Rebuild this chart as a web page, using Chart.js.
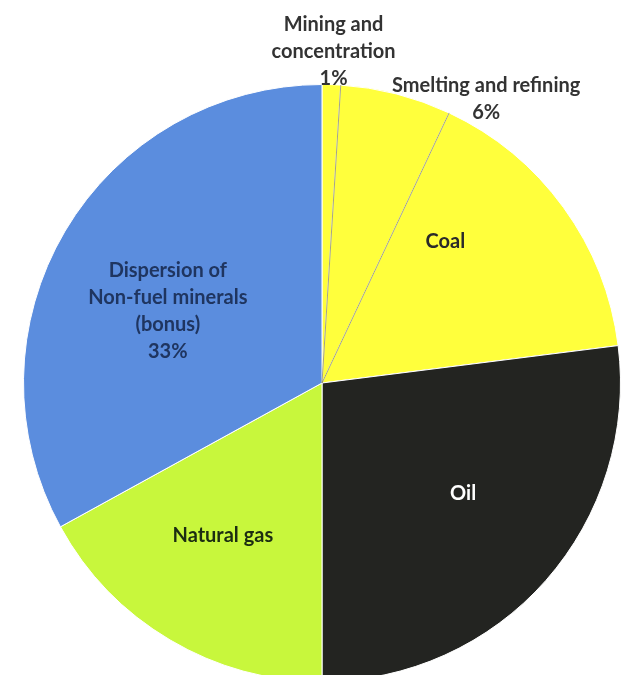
<!DOCTYPE html>
<html>
<head>
<meta charset="utf-8">
<script src="https://cdn.jsdelivr.net/npm/chart.js@4"></script>
<style>
    html, body { margin: 0; padding: 0; background: #ffffff; overflow: hidden; }
    #wrap { width: 629px; height: 682px; }
</style>
</head>
<body>
<div id="wrap"><canvas id="pie"></canvas></div>
<script>
// Slices, clockwise from 12 o'clock
const categories = ['Mining and concentration', 'Smelting and refining', 'Coal', 'Oil', 'Natural gas', 'Dispersion of Non-fuel minerals (bonus)'];
const shares = [1, 6, 16, 27, 17, 33];
const sliceColors = ['#ffff3c', '#ffff3c', '#ffff3c', '#232421', '#c8f73c', '#5b8dde'];

// Text shown for each slice (lines)
const labelLines = [
    ['Mining and', 'concentration', '1%'],
    ['Smelting and refining', '6%'],
    ['Coal'],
    ['Oil'],
    ['Natural gas'],
    ['Dispersion of', 'Non-fuel minerals', '(bonus)', '33%']
];
const labelColors = ['#333333', '#333333', '#2a2a2a', '#ffffff', '#1c2d12', '#1f3560'];
// placement: angle in degrees clockwise from top, distance as fraction of radius
const labelAngle = [2, 30, 41, 128, 213, 295];
const labelDist = [1.11, 1.1, 0.63, 0.6, 0.61, 0.57];

const sliceLabels = {
    id: 'sliceLabels',
    afterDatasetsDraw(chart) {
        const ctx = chart.ctx;
        const arcs = chart.getDatasetMeta(0).data;
        const cx = arcs[0].x, cy = arcs[0].y, r = arcs[0].outerRadius;

        // faint dark seams between the yellow slices
        ctx.save();
        ctx.strokeStyle = 'rgba(90, 90, 30, 0.55)';
        ctx.lineWidth = 1;
        [0, 1].forEach(i => {
            const a = arcs[i].endAngle;
            ctx.beginPath();
            ctx.moveTo(cx, cy);
            ctx.lineTo(cx + Math.cos(a) * r, cy + Math.sin(a) * r);
            ctx.stroke();
        });
        ctx.restore();

        ctx.save();
        ctx.font = 'bold 20px Lato, "Open Sans", sans-serif';
        ctx.textAlign = 'center';
        ctx.textBaseline = 'middle';
        const lineH = 27;
        labelLines.forEach((lines, i) => {
            const a = (labelAngle[i] - 90) * Math.PI / 180;
            const x = cx + Math.cos(a) * r * labelDist[i];
            const y = cy + Math.sin(a) * r * labelDist[i];
            const top = y - (lines.length - 1) * lineH / 2;
            ctx.fillStyle = labelColors[i];
            lines.forEach((t, j) => ctx.fillText(t, x, top + j * lineH));
        });
        ctx.restore();
    }
};

const ctx = document.getElementById('pie').getContext('2d');
new Chart(ctx, {
    type: 'pie',
    data: {
        labels: categories,
        datasets: [{
            data: shares,
            backgroundColor: sliceColors,
            borderColor: '#ffffff',
            borderWidth: 1,
        }]
    },
    options: {
        responsive: true,
        maintainAspectRatio: false,
        animation: false,
        layout: {
            padding: { top: 84, left: 15, right: 0, bottom: 0 }
        },
        plugins: {
            legend: { display: false },
            tooltip: { enabled: false },
        },
    },
    plugins: [sliceLabels]
});
</script>
</body>
</html>
